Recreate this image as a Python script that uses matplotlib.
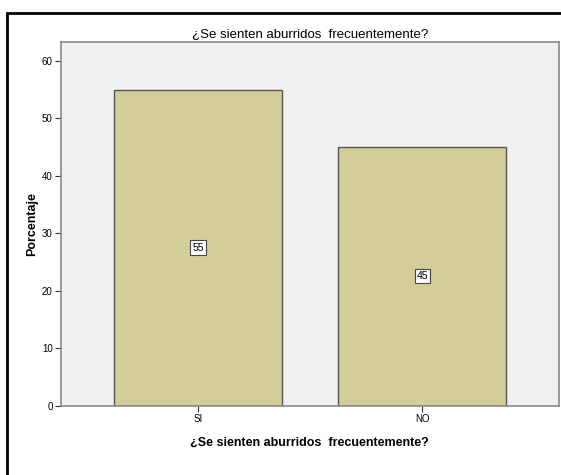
import matplotlib.pyplot as plt
from matplotlib.patches import Rectangle

categorias = ["SI", "NO"]
porcentajes = [55, 45]
etiquetas = ["55", "45"]

plt.rcParams['font.family'] = ['Liberation Sans', 'DejaVu Sans']

fig = plt.figure(figsize=(5.61, 4.75), dpi=100)
fig.patches.append(Rectangle((7 / 561, -0.05), 1.1, 1 - 13 / 475 + 0.05,
                             transform=fig.transFigure, fill=False,
                             edgecolor="black", linewidth=2))

ax = fig.add_axes([61 / 561, 69.5 / 475, 497.5 / 561, 363.5 / 475])
ax.set_facecolor("#f0f0f0")
for s in ax.spines.values():
    s.set_color("#8a8a8a")
    s.set_linewidth(1.2)

x = range(len(categorias))
ax.bar(x, porcentajes, width=0.75, color="#d3ce97", edgecolor="#555555", linewidth=1)
for i, v in enumerate(porcentajes):
    ax.text(i, v / 2, etiquetas[i], ha="center", va="center", fontsize=7.5,
            bbox=dict(boxstyle="square,pad=0.2", facecolor="white", edgecolor="#444444", linewidth=0.8))

ax.set_xlim(-0.612, 1.607)
ax.set_ylim(0, 63.3)
ax.set_xticks(list(x))
ax.set_xticklabels(categorias, fontsize=7)
ax.set_yticks(range(0, 61, 10))
ax.tick_params(axis="both", labelsize=7, length=4, color="#333333", pad=2)

ax.set_title("¿Se sienten aburridos  frecuentemente?", fontsize=9.5, pad=3)
ax.set_xlabel("¿Se sienten aburridos  frecuentemente?", fontsize=9, fontweight="bold", labelpad=9)
ax.set_ylabel("Porcentaje", fontsize=9, fontweight="bold", labelpad=3)

fig.savefig("out.png", dpi=100)
